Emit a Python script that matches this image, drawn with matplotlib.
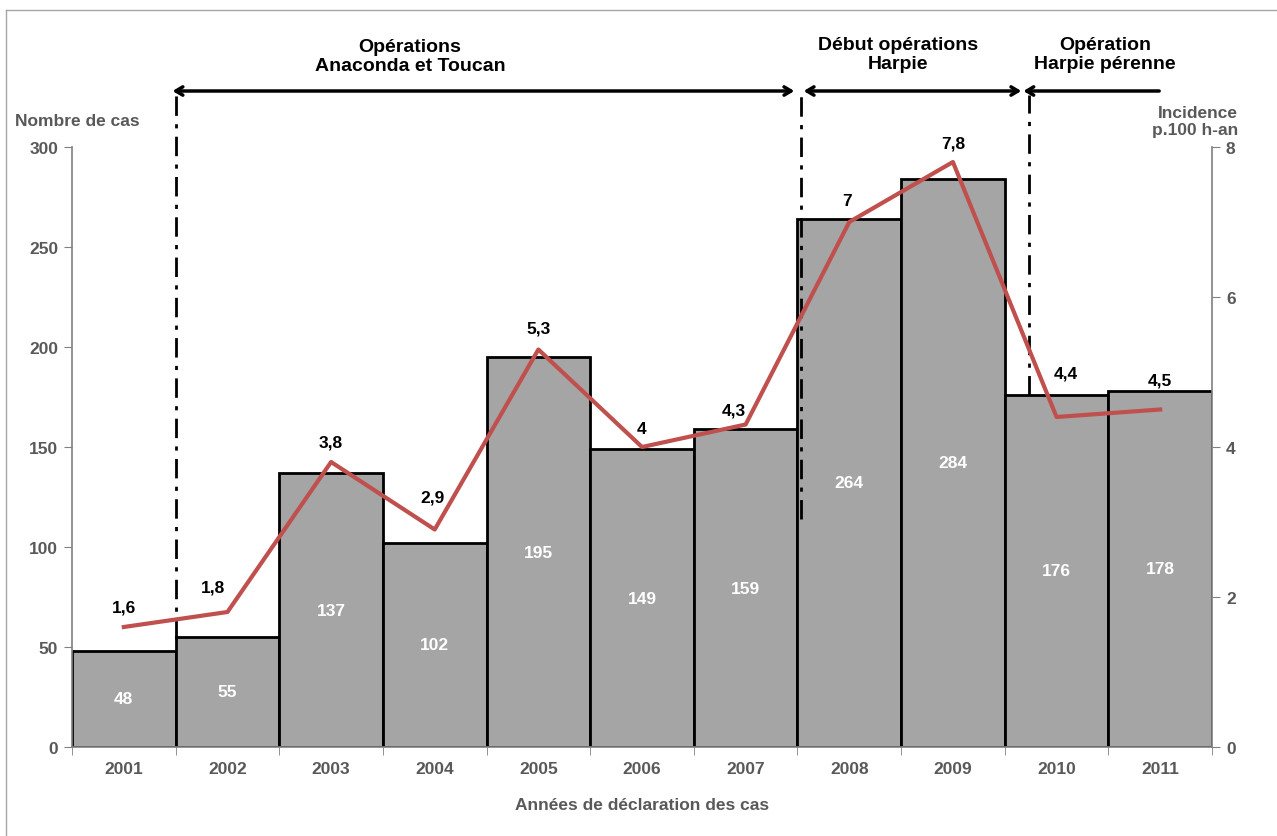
import matplotlib
matplotlib.use("Agg")
import matplotlib.pyplot as plt
from matplotlib.lines import Line2D
import numpy as np

plt.rcParams['font.family'] = ['Liberation Sans', 'DejaVu Sans']

years = ["2001", "2002", "2003", "2004", "2005", "2006", "2007", "2008", "2009", "2010", "2011"]
cases = [48, 55, 137, 102, 195, 149, 159, 264, 284, 176, 178]
incidence = [1.6, 1.8, 3.8, 2.9, 5.3, 4.0, 4.3, 7.0, 7.8, 4.4, 4.5]
incidence_labels = ["1,6", "1,8", "3,8", "2,9", "5,3", "4", "4,3", "7", "7,8", "4,4", "4,5"]
periods = ["Opérations\nAnaconda et Toucan", "Début opérations\nHarpie", "Opération\nHarpie pérenne"]

# label placement offsets (pixels) relative to each line point
lab_dx = [0, -14, 0, -2, 0, 0, -12, -2, 0, 9, 0]
lab_dy = [20, 25, 20, 32, 21, 18, 14, 21, 19, 44, 29]

W, H = 1277, 837
fig = plt.figure(figsize=(W / 100, H / 100), dpi=100)
ax = fig.add_axes([72 / W, (H - 748) / H, (1212 - 72) / W, (748 - 148) / H])
ax2 = ax.twinx()

# figure frame (top & left)
fig.add_artist(Line2D([6 / W, 6 / W], [0, 1 - 11 / H], transform=fig.transFigure, color="#A6A6A6", lw=1))
fig.add_artist(Line2D([6 / W, 1], [1 - 11 / H, 1 - 11 / H], transform=fig.transFigure, color="#A6A6A6", lw=1))

FS = 12.5
x = np.arange(len(years))
ax.bar(x, cases, width=1.0, color="#A5A5A5", edgecolor="black", linewidth=2, zorder=2)
for xi, v in zip(x, cases):
    ax.text(xi, v / 2, str(v), ha="center", va="center", color="white", fontsize=FS, fontweight="bold", zorder=3)

gray = "#595959"
ax.set_xlim(-0.5, len(years) - 0.5)
ax.set_ylim(0, 300)
ax.set_yticks(range(0, 301, 50))
ax.set_xticks(x)
ax.set_xticklabels(years)
ax.set_xticks(np.arange(-0.5, len(years), 1.0), minor=True)
ax.tick_params(axis="x", which="major", length=0, pad=10, labelsize=FS, labelcolor=gray)
ax.tick_params(axis="x", which="minor", length=6, color="#808080", direction="out")
ax.tick_params(axis="y", length=6, color="#808080", labelsize=FS, labelcolor=gray, pad=4)
for lab in ax.get_xticklabels() + ax.get_yticklabels():
    lab.set_fontweight("bold")
for s in ["top", "right"]:
    ax.spines[s].set_visible(False)
for s in ["left", "bottom"]:
    ax.spines[s].set_color("#808080")
    ax.spines[s].set_linewidth(1.2)

ax2.plot(x, incidence, color="#C0504D", lw=3, zorder=5)
ax2.set_ylim(0, 8)
ax2.set_yticks(range(0, 9, 2))
ax2.tick_params(axis="y", length=6, color="#808080", labelsize=FS, labelcolor=gray, pad=4)
for lab in ax2.get_yticklabels():
    lab.set_fontweight("bold")
for s in ["top", "left", "bottom"]:
    ax2.spines[s].set_visible(False)
ax2.spines["right"].set_color("#808080")
ax2.spines["right"].set_linewidth(1.2)
for xi, v, t, dx, dy in zip(x, incidence, incidence_labels, lab_dx, lab_dy):
    ax2.annotate(t, (xi, v), xytext=(dx, dy), textcoords="offset pixels", ha="center", va="center",
                 fontsize=FS, fontweight="bold", color="black")

ax.set_xlabel("Années de déclaration des cas", fontsize=FS, fontweight="bold", color=gray, labelpad=15)
fig.text(15 / W, 1 - 122 / H, "Nombre de cas", fontsize=FS, fontweight="bold", color=gray, ha="left", va="center")
fig.text(1238 / W, 1 - 122 / H, "Incidence\np.100 h-an", fontsize=FS, fontweight="bold", color=gray,
         ha="right", va="center", linespacing=1.1)

# period separators (dash-dot) and arrows, drawn in data coords of ax
dd = (0, (7, 3, 1.5, 3))
sep_x = [0.5, 6.53, 8.73]
sep_bottom = [54, 114, 176]
arrow_y = 328
top_y = 326
for sx, sb in zip(sep_x, sep_bottom):
    ax.plot([sx, sx], [sb, top_y], color="black", lw=2, linestyle=dd, clip_on=False, zorder=4)

arrow_spans = [(0.47, 6.47, "<->"), (6.56, 8.66, "<->"), (8.68, 9.99, "<-")]
for (a, b, st) in arrow_spans:
    ax.annotate("", xy=(b, arrow_y), xytext=(a, arrow_y), xycoords="data",
                arrowprops=dict(arrowstyle=st + ",head_length=0.5,head_width=0.3", lw=2.5, color="black",
                                shrinkA=0, shrinkB=0), annotation_clip=False)

text_x = [(410 - 72) / 103.64 - 0.5, (898 - 72) / 103.64 - 0.5, (1105 - 72) / 103.64 - 0.5]
text_y = [(748 - 57) / 2, (748 - 55) / 2, (748 - 55) / 2]
for t, tx, ty in zip(periods, text_x, text_y):
    ax.text(tx, ty, t, ha="center", va="center", fontsize=14, fontweight="bold", color="black",
            linespacing=1.1, clip_on=False)

fig.savefig("out.png", dpi=100)
